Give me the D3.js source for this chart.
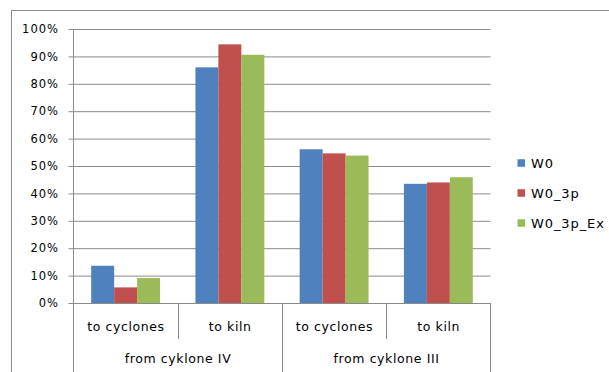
<!DOCTYPE html>
<html>
<head>
<meta charset="utf-8">
<script src="https://cdn.jsdelivr.net/npm/d3@7"></script>
<style>
  html, body { margin: 0; padding: 0; background: #fff; }
  svg { display: block; }
  text { font-family: "DejaVu Sans", Verdana, sans-serif; fill: #000; }
</style>
</head>
<body>
<svg id="chart" width="609" height="372"></svg>
<script>
// Flow split shares per destination and operating case
const categories = ["to cyclones", "to kiln", "to cyclones", "to kiln"];
const groups = [
  { label: "from cyklone IV", from: 0, to: 1 },
  { label: "from cyklone III", from: 2, to: 3 }
];
const seriesNames = ["W0", "W0_3p", "W0_3p_Ex"];
const W0       = [0.136, 0.860, 0.561, 0.435];
const W0_3p    = [0.057, 0.944, 0.546, 0.440];
const W0_3p_Ex = [0.091, 0.906, 0.538, 0.459];
const yTicks = [0, 0.1, 0.2, 0.3, 0.4, 0.5, 0.6, 0.7, 0.8, 0.9, 1.0];

const seriesValues = [W0, W0_3p, W0_3p_Ex];
const colors = ["#4F81BD", "#C0504D", "#9BBB59"];
const gridColor = "#8a8a8a";

const svg = d3.select("#chart");

// outer chart frame
svg.append("rect")
  .attr("x", 11.5).attr("y", 10.5)
  .attr("width", 620).attr("height", 400)
  .attr("fill", "none").attr("stroke", "#8c8c8c").attr("stroke-width", 1);

const plotLeft = 73.5, plotRight = 490.5, plotTop = 29, plotBottom = 303;

const x = d3.scaleBand().domain(d3.range(categories.length)).range([plotLeft, plotRight]).paddingInner(0).paddingOuter(0);
const xs = d3.scaleBand().domain(seriesNames).range([0, x.bandwidth()]).paddingInner(0).paddingOuter(0.77);
const y = d3.scaleLinear().domain([0, 1]).range([plotBottom, plotTop]);

// horizontal gridlines with left ticks
const yAxis = d3.axisLeft(y).tickValues(yTicks).tickFormat(d3.format(".0%"))
  .tickSize(-(plotRight - plotLeft)).tickSizeOuter(0).tickPadding(14.5);
const gy = svg.append("g").attr("transform", `translate(${plotLeft},0)`).call(yAxis);
gy.select(".domain").remove();
gy.selectAll(".tick line")
  .attr("x1", -5)
  .attr("stroke", gridColor);
gy.selectAll(".tick text")
  .attr("font-size", 11.5)
  .attr("letter-spacing", 1)
  .attr("fill", "#000")
  .attr("font-family", "'DejaVu Sans', Verdana, sans-serif");

// bars
seriesNames.forEach((name, si) => {
  svg.append("g").selectAll("rect")
    .data(seriesValues[si])
    .join("rect")
    .attr("x", (d, i) => x(i) + xs(name))
    .attr("y", d => y(d))
    .attr("width", xs.bandwidth())
    .attr("height", d => y(0) - y(d))
    .attr("fill", colors[si]);
});

// vertical axis line and baseline
svg.append("line").attr("x1", plotLeft).attr("x2", plotLeft).attr("y1", plotTop).attr("y2", plotBottom)
  .attr("stroke", gridColor);
svg.append("line").attr("x1", plotLeft).attr("x2", plotRight).attr("y1", plotBottom + 0.5).attr("y2", plotBottom + 0.5)
  .attr("stroke", gridColor);

// category labels and separators
const gx = svg.append("g");
categories.forEach((c, i) => {
  gx.append("text")
    .attr("x", x(i) + x.bandwidth() / 2 + 0.3)
    .attr("y", plotBottom + 27.5)
    .attr("text-anchor", "middle")
    .attr("font-size", 12.5)
    .attr("letter-spacing", 0.6)
    .text(c);
});
// inner separators within a group
groups.forEach(g => {
  for (let i = g.from + 1; i <= g.to; i++) {
    gx.append("line")
      .attr("x1", Math.round(x(i)) + 0.5).attr("x2", Math.round(x(i)) + 0.5)
      .attr("y1", plotBottom).attr("y2", plotBottom + 36)
      .attr("stroke", gridColor);
  }
  gx.append("text")
    .attr("x", (x(g.from) + x(g.to) + x.bandwidth()) / 2 + 0.3)
    .attr("y", plotBottom + 60)
    .attr("text-anchor", "middle")
    .attr("font-size", 12.5)
    .attr("letter-spacing", 0.6)
    .text(g.label);
});
// group boundaries run to the bottom edge
const bounds = [plotLeft, x(2), plotRight];
bounds.forEach(b => {
  gx.append("line")
    .attr("x1", Math.round(b - 0.5) + 0.5).attr("x2", Math.round(b - 0.5) + 0.5)
    .attr("y1", plotBottom).attr("y2", 372)
    .attr("stroke", gridColor);
});

// legend
const legend = svg.append("g");
seriesNames.forEach((name, i) => {
  const ly = 163 + i * 30;
  legend.append("rect")
    .attr("x", 517.5).attr("y", ly - 3.75)
    .attr("width", 7.5).attr("height", 7.5)
    .attr("fill", colors[i]);
  legend.append("text")
    .attr("x", 531).attr("y", ly + 4.8)
    .attr("font-size", 13)
    .attr("letter-spacing", 0.9)
    .text(name);
});
</script>
</body>
</html>
